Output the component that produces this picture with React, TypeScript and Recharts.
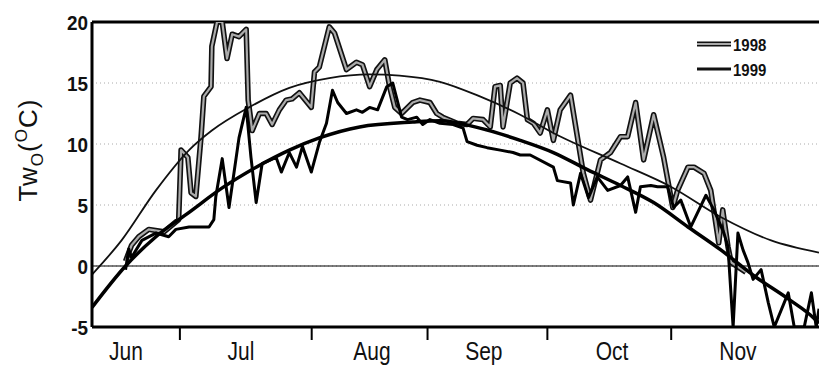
import React from "react";
import {
  LineChart,
  Line,
  XAxis,
  YAxis,
  CartesianGrid,
  ReferenceLine,
  Label,
} from "recharts";

// day of year for each reading
const days1998 = [
  168.4, 169.9, 171.7, 174.2, 178.0, 181.7, 182.3, 184.0, 184.8, 186.0, 187.3, 188.0,
  189.8, 190.0, 191.3, 192.6, 193.8, 195.1, 196.8, 198.6, 199.1, 200.1, 201.9, 203.6,
  205.1, 206.9, 208.6, 210.1, 211.9, 214.9, 215.7, 216.9, 219.4, 220.7, 223.7, 226.2,
  227.7, 229.5, 231.3, 233.3, 234.5, 235.8, 237.5, 240.3, 242.1, 244.6, 246.3, 247.8,
  251.4, 253.9, 255.4, 257.9, 259.7, 260.9, 262.2, 262.9, 264.7, 266.4, 267.9, 269.0,
  270.5, 272.2, 274.0, 275.5, 277.2, 279.8, 283.0, 284.8, 287.3, 289.8, 292.3, 294.1,
  296.1, 298.1, 300.6, 303.1, 305.4, 306.6, 309.2, 310.7, 313.2, 314.9, 316.9, 317.9,
  319.2, 320.0, 323.7,
];
const temp1998 = [
  0.4, 1.7, 2.4, 3.0, 2.8, 3.8, 9.5, 8.9, 6.0, 5.7, 10.6, 13.9,
  14.7, 18.0, 20.0, 20.0, 17.0, 19.0, 18.8, 19.4, 13.6, 11.1, 12.5, 12.5,
  11.6, 12.8, 13.6, 13.7, 14.2, 13.0, 15.9, 16.3, 19.6, 19.1, 16.1, 16.7,
  16.5, 14.7, 16.1, 16.9, 14.7, 13.0, 12.5, 13.4, 13.6, 13.4, 12.5, 12.2,
  11.7, 11.6, 12.1, 12.0, 11.4, 14.7, 14.8, 11.4, 15.0, 15.4, 15.0, 12.0,
  11.7, 10.9, 12.8, 10.3, 12.8, 14.0, 7.6, 5.4, 8.7, 9.3, 10.6, 10.6,
  13.4, 8.7, 12.4, 8.9, 4.8, 6.2, 8.1, 8.1, 7.6, 6.2, 1.9, 4.6,
  1.6, 0.3, -0.5,
];

const days1999 = [
  168.4, 169.2, 169.9, 172.5, 176.0, 179.2, 181.0, 184.3, 189.3, 190.5, 191.0, 192.6,
  194.3, 196.8, 198.6, 199.8, 201.1, 202.6, 206.1, 207.4, 209.4, 211.2, 212.7, 214.9,
  216.9, 218.7, 220.2, 221.5, 223.7, 226.2, 227.7, 229.5, 231.5, 233.8, 235.3, 237.5,
  239.0, 241.3, 242.8, 244.6, 247.1, 250.4, 252.9, 253.9, 256.4, 258.9, 262.2, 265.4,
  267.2, 269.7, 275.5, 276.5, 279.8, 280.5, 282.3, 284.3, 286.5, 289.1, 292.3, 294.1,
  296.1, 297.3, 299.9, 301.6, 304.1, 305.6, 307.4, 309.9, 313.7, 315.7, 318.2, 319.2,
  320.5, 321.7, 323.0, 324.2, 325.5, 327.5, 329.3, 330.8, 334.3, 335.8, 338.3, 340.1,
  341.3, 342.0,
];
const temp1999 = [
  -0.3, 1.4, 0.7, 2.1, 2.7, 2.4, 3.0, 3.2, 3.2, 3.8, 5.7, 8.8,
  4.8, 10.5, 13.0, 8.9, 5.2, 8.4, 8.9, 7.7, 9.3, 8.1, 9.8, 7.7,
  10.1, 11.7, 14.4, 13.4, 12.5, 12.8, 12.6, 13.0, 12.8, 14.7, 15.0, 12.2,
  12.0, 12.2, 11.6, 12.0, 11.7, 11.6, 11.3, 10.2, 9.9, 9.7, 9.5, 9.3,
  9.1, 9.1, 8.1, 7.0, 6.8, 5.0, 7.6, 5.6, 7.3, 6.2, 6.6, 7.3,
  4.4, 6.5, 6.6, 6.5, 6.5, 4.8, 5.4, 3.2, 5.8, 4.6, 2.7, 1.6,
  -5.0, 2.7, 1.3, 0.3, -1.1, -0.3, -3.0, -5.0, -2.2, -5.0, -5.0, -2.2,
  -5.0, -3.5,
];

// smooth seasonal fits
const fitDays1998 = [160, 167.4, 176.0, 184.3, 190.0, 199.3, 209.4, 219.4, 229.5, 237.0, 247.1, 257.1, 267.2, 275.5, 292.3, 304.9, 317.5, 330.0, 342];
const fit1998 = [-0.7, 2.1, 6.2, 9.5, 11.1, 13.0, 14.6, 15.4, 15.7, 15.6, 15.1, 13.9, 12.4, 10.9, 8.4, 6.5, 4.0, 2.1, 1.1];
const fitDays1999 = [160, 168.4, 176.0, 184.3, 192.6, 201.1, 209.4, 216.9, 227.0, 240.3, 247.1, 257.1, 267.2, 275.5, 284.0, 292.3, 300.6, 309.2, 317.5, 325.7, 334.3, 340.8, 342];
const fit1999 = [-3.4, 0, 2.4, 4.4, 6.4, 8.1, 9.5, 10.5, 11.4, 11.8, 11.9, 11.3, 10.3, 9.3, 7.9, 6.6, 5.2, 3.2, 1.3, -0.8, -2.7, -4.3, -4.7];

const monthStarts = [182, 215, 244, 274, 305];
const monthLabelDays = [168.5, 197.3, 230.1, 258.1, 290.2, 321.7];
const monthNames = ["Jun", "Jul", "Aug", "Sep", "Oct", "Nov"];
const yTicks = [-5, 0, 5, 10, 15, 20];

const toPoints = (d: number[], v: number[]) => d.map((day, i) => ({ day, t: v[i] }));

const s1998 = toPoints(days1998, temp1998);
const s1999 = toPoints(days1999, temp1999);
const f1998 = toPoints(fitDays1998, fit1998);
const f1999 = toPoints(fitDays1999, fit1999);

const FONT = "'Liberation Sans', Arial, sans-serif";

const MonthTick = ({ x, y, payload }: any) => {
  const v = payload.value;
  const bi = monthStarts.indexOf(v);
  if (bi >= 0) {
    return <line x1={x} x2={x} y1={y} y2={y + 13} stroke="#000" strokeWidth={2} />;
  }
  const li = monthLabelDays.indexOf(v);
  return (
    <text
      transform={`translate(${x},${y + 33}) scale(0.84,1)`}
      textAnchor="middle"
      fontSize={25}
      fontFamily={FONT}
      fill="#111"
    >
      {monthNames[li]}
    </text>
  );
};

const ValueTick = ({ x, y, payload }: any) => (
  <text
    transform={`translate(${x},${y + 8}) scale(0.9,1)`}
    textAnchor="end"
    fontSize={21}
    fontWeight="bold"
    fontFamily={FONT}
    fill="#111"
  >
    {payload.value}
  </text>
);

const YTitle = () => (
  <text
    x={37}
    y={150}
    transform="rotate(-90, 37, 150)"
    textAnchor="middle"
    fontSize={26}
    fontFamily={FONT}
    fill="#111"
    letterSpacing={1}
  >
    Tw
    <tspan fontSize={17} dy={6}>O</tspan>
    <tspan dy={-6}>(</tspan>
    <tspan fontSize={17} dy={-10}>O</tspan>
    <tspan dy={10}>C)</tspan>
  </text>
);

const LegendBox = () => (
  <svg width={90} height={50} style={{ position: "absolute", left: 695, top: 33 }}>
    <line x1={2} x2={36} y1={11} y2={11} stroke="#111" strokeWidth={5} />
    <line x1={2} x2={36} y1={11} y2={11} stroke="#aaa" strokeWidth={2} />
    <text transform="translate(38,18) scale(0.88,1)" fontSize={17} fontWeight="bold" fontFamily={FONT} fill="#111">
      1998
    </text>
    <line x1={2} x2={36} y1={36} y2={36} stroke="#111" strokeWidth={3} />
    <text transform="translate(38,43) scale(0.88,1)" fontSize={17} fontWeight="bold" fontFamily={FONT} fill="#111">
      1999
    </text>
  </svg>
);

export default function App() {
  return (
    <div style={{ position: "absolute", left: 0, top: 0, width: 819, height: 375, background: "#fff" }}>
      <LineChart width={819} height={375} margin={{ top: 22, right: 0, bottom: 18, left: 32 }}>
        <CartesianGrid vertical={false} stroke="#aaa" strokeDasharray="1 3" />
        <XAxis
          type="number"
          dataKey="day"
          domain={[160, 342]}
          ticks={[...monthStarts, ...monthLabelDays]}
          interval={0}
          tick={<MonthTick />}
          tickLine={false}
          tickSize={0}
          tickMargin={0}
          height={30}
          axisLine={{ stroke: "#000", strokeWidth: 3 }}
          allowDataOverflow
        />
        <YAxis
          type="number"
          domain={[-5, 20]}
          ticks={yTicks}
          width={60}
          tickLine={false}
          tickSize={0}
          tickMargin={4}
          axisLine={{ stroke: "#000", strokeWidth: 3 }}
          tick={<ValueTick />}
          allowDataOverflow
        >
          <Label content={<YTitle />} />
        </YAxis>
        <ReferenceLine y={20} stroke="#000" strokeWidth={3} />
        <ReferenceLine y={0} stroke="#000" strokeWidth={1.2} />
        <Line data={s1998} dataKey="t" stroke="#111" strokeWidth={5.5} dot={false} isAnimationActive={false} strokeLinejoin="round" />
        <Line data={s1998} dataKey="t" stroke="#ababab" strokeWidth={2.2} dot={false} isAnimationActive={false} strokeLinejoin="round" />
        <Line data={f1998} dataKey="t" type="monotone" stroke="#111" strokeWidth={1.8} dot={false} isAnimationActive={false} />
        <Line data={s1999} dataKey="t" stroke="#000" strokeWidth={3} dot={false} isAnimationActive={false} strokeLinejoin="round" />
        <Line data={f1999} dataKey="t" type="monotone" stroke="#000" strokeWidth={3.5} dot={false} isAnimationActive={false} />
      </LineChart>
      <LegendBox />
    </div>
  );
}
